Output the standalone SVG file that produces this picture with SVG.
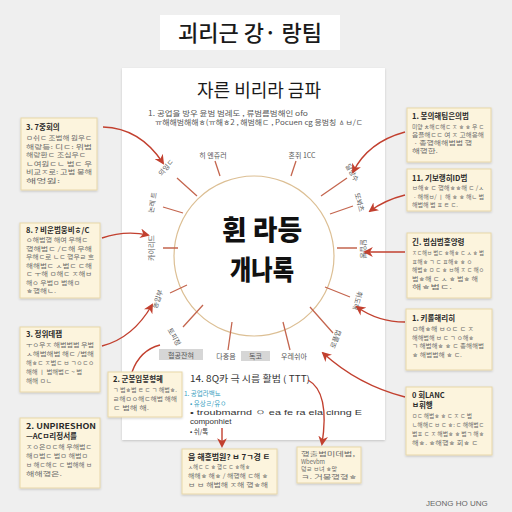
<svg xmlns="http://www.w3.org/2000/svg" width="512" height="512" viewBox="0 0 512 512">
<defs>
<marker id="ah" viewBox="0 0 10 10" refX="8" refY="5" markerWidth="7" markerHeight="7" orient="auto-start-reverse"><path d="M0,0 L10,5 L0,10 L3,5 Z" fill="#c2402f"/></marker>
<filter id="sh" x="-10%" y="-10%" width="120%" height="120%"><feDropShadow dx="0" dy="1" stdDeviation="1.2" flood-color="#000" flood-opacity="0.18"/></filter>
</defs>
<style>
text{font-family:"Noto Sans CJK KR","Noto Sans",sans-serif;}
.box{fill:#fcf4dd;stroke:#e8d7a8;stroke-width:1;filter:url(#sh);}
.bt{font-size:7.5px;font-weight:bold;fill:#2a2a2a;}
.bl{font-size:6px;fill:#6a6a6a;}
.spk{stroke:#c4664f;stroke-width:1.3;fill:none;}
.sl{font-size:7px;fill:#555;}
.arr{stroke:#c2402f;stroke-width:1.4;fill:none;}
.pg{font-size:7px;fill:#555;}
.lat{font-family:"Liberation Sans",sans-serif;}
</style>
<rect width="512" height="512" fill="#efefef"/>
<g id="title"><rect x="160" y="15" width="180" height="35" fill="#ffffff"/><text x="250" y="41" text-anchor="middle" font-size="22" font-weight="500" fill="#1a1a1a">괴리근 강· 랑팀</text></g>
<g id="page">
<rect x="122" y="68" width="263" height="372" fill="#ffffff" filter="url(#sh)"/>
<text x="259" y="97" text-anchor="middle" font-size="18" fill="#1a1a1a">자른 비리라 금파</text>
<text x="148" y="116" class="pg" textLength="160" lengthAdjust="spacingAndGlyphs">1. 공업을 방우 윤범 범례도 , 류범름범해인 ofo</text>
<text x="155" y="125" class="pg" textLength="208" lengthAdjust="spacingAndGlyphs">ㅠ해해범해해ㅎ(ㅠ해ㅎ2 , 해범해ㄷ , Pocuen cg 응범칭 ㅿㅂ/ㄷ</text>
</g>
<g id="hub">
<circle cx="254" cy="256" r="80" fill="#ffffff" stroke="#dcbf94" stroke-width="1.2"/>
<text x="262" y="240" text-anchor="middle" font-size="27" font-weight="900" fill="#111" textLength="80" lengthAdjust="spacingAndGlyphs">휜 라등</text>
<text x="262" y="280" text-anchor="middle" font-size="27" font-weight="900" fill="#111" textLength="64" lengthAdjust="spacingAndGlyphs">개나록</text>
</g>
<g id="spokes">
<path class="spk" d="M220,176 L215,161 M291,176 L296,161 M321,196 L347,178 M330,214 L353,206 M337,248 L357,248 M325,287 L350,297 M310,307 L333,333 M283,322 L290,350 M232,322 L228,350 M203,305 L183,327 M187,285 L170,293 M178,248 L163,248 M183,213 L163,207 M197,196 L177,178"/>
<text class="sl" x="213" y="158" text-anchor="middle">히 엔쥬러</text>
<text class="sl" x="302" y="158" text-anchor="middle">혼쥐 1CC</text>
<text class="sl" transform="translate(350,174) rotate(60)" text-anchor="middle">달망수</text>
<text class="sl" transform="translate(357,203) rotate(75)" text-anchor="middle">또봐츠</text>
<text class="sl" transform="translate(361,249) rotate(90)" text-anchor="middle">달입봉</text>
<text class="sl" transform="translate(355,300) rotate(105)" text-anchor="middle">휘도해</text>
<text class="sl" transform="translate(338,340) rotate(-70)" text-anchor="middle">로플업</text>
<text class="sl" x="294" y="359" text-anchor="middle">우레쉬아</text>
<text class="sl" x="226" y="359" text-anchor="middle">다중음</text>
<text class="sl" transform="translate(172,338) rotate(60)" text-anchor="middle">토피정</text>
<text class="sl" transform="translate(160,300) rotate(-70)" text-anchor="middle">농입부</text>
<text class="sl" transform="translate(154,248) rotate(-90)" text-anchor="middle">카이리드</text>
<text class="sl" transform="translate(155,203) rotate(-80)" text-anchor="middle">논레 트</text>
<text class="sl" transform="translate(168,169) rotate(-50)" text-anchor="middle">의잉ㄷ</text>
<rect x="159" y="349" width="44" height="11" fill="#d6d6d6"/><text class="sl" x="181" y="357.5" text-anchor="middle" font-size="6">협공잔혀</text>
<rect x="241" y="351" width="29" height="10" fill="#d6d6d6"/><text class="sl" x="255.5" y="359" text-anchor="middle" font-size="6">독코</text>
</g>
<g id="bodytext">
<text x="190" y="382" font-size="9" fill="#333" textLength="120" lengthAdjust="spacingAndGlyphs">14. 8Q카 극 시름 활범 ( TTT)</text>
<text x="184" y="396" font-size="6.5" fill="#3a9fbf">1. 공업라백뇨</text>
<text x="190" y="405.5" font-size="6.5" fill="#3a9fbf">• 유상ㄹ/유ㅇ</text>
<text x="190" y="415" font-size="8" fill="#333" class="lat" textLength="172" lengthAdjust="spacingAndGlyphs">• troubmarnd ㅇ ea fe ra ela cinng E</text>
<text x="190" y="424" font-size="8" fill="#333" class="lat">componhiet</text>
<text x="190" y="434" font-size="6.5" fill="#333">• 쉬/톡</text>
</g>
<g id="connectors">
<path class="arr" d="M103,127 Q140,128 163,163" marker-end="url(#ah)"/>
<path class="arr" d="M102,238 Q125,230 148,235" marker-end="url(#ah)"/>
<path class="arr" d="M102,346 Q133,338 152,305" marker-end="url(#ah)"/>
<path class="arr" d="M132,372 Q140,350 160,345"/>
<path class="arr" d="M405,132 Q368,142 353,172" marker-end="url(#ah)"/>
<path class="arr" d="M405,195 Q385,200 370,211" marker-end="url(#ah)"/>
<path class="arr" d="M405,252 L365,252" marker-end="url(#ah)"/>
<path class="arr" d="M405,322 Q378,322 357,307" marker-end="url(#ah)"/>
<path class="arr" d="M405,397 Q358,385 323,353" marker-end="url(#ah)"/>
<path class="arr" d="M308,380 Q330,392 322,444" marker-end="url(#ah)"/>
<path class="arr" d="M222,428 L222,446" marker-end="url(#ah)"/>
</g>
<g id="boxL1"><rect class="box" x="21" y="118" width="76" height="72"/>
<text class="bt" x="26" y="130">3. 7중회의</text>
<text class="bl" x="26" y="140" textLength="66" lengthAdjust="spacingAndGlyphs">ㅁ쉬ㄷ 조범해 원우ㄷ</text>
<text class="bl" x="26" y="148.5" textLength="66" lengthAdjust="spacingAndGlyphs">해랑등: 디ㄷ: 위범</text>
<text class="bl" x="26" y="157" textLength="60" lengthAdjust="spacingAndGlyphs">해랑환ㄷ 조심우ㄷ</text>
<text class="bl" x="26" y="165.5" textLength="66" lengthAdjust="spacingAndGlyphs">ㄴ여원ㄷㄴ 범ㄷ 우</text>
<text class="bl" x="26" y="174" textLength="66" lengthAdjust="spacingAndGlyphs">비교ㅈ로: 고범 뭉해</text>
<text class="bl" x="26" y="182.5" textLength="34" lengthAdjust="spacingAndGlyphs">해엉원:</text>
</g>
<g id="boxL2"><rect class="box" x="20" y="223" width="80" height="75"/>
<text class="bt" x="26" y="233">8. ? 비운범웅비ㅎ/C</text>
<text class="bl" x="26" y="242" textLength="62" lengthAdjust="spacingAndGlyphs">ㅇ해범행 해여 우해ㄷ</text>
<text class="bl" x="26" y="250.5" textLength="66" lengthAdjust="spacingAndGlyphs">행해범ㄷ /ㄷ해 우해</text>
<text class="bl" x="26" y="259" textLength="68" lengthAdjust="spacingAndGlyphs">우해ㄷ로 ㄴㄷ 행우ㄹ 흐</text>
<text class="bl" x="26" y="267.5" textLength="66" lengthAdjust="spacingAndGlyphs">해해범ㄷ ㅅ범ㄷ ㄷ해</text>
<text class="bl" x="26" y="276" textLength="66" lengthAdjust="spacingAndGlyphs">ㄷ ㅜ해 ㅁ해ㄷ ㅈ해ㅂ</text>
<text class="bl" x="26" y="284.5" textLength="54" lengthAdjust="spacingAndGlyphs">해ㅇ 우범ㅁ 범해ㅁ</text>
<text class="bl" x="26" y="293" textLength="30" lengthAdjust="spacingAndGlyphs">ㅎ행해ㄴ.</text>
</g>
<g id="boxL3"><rect class="box" x="20" y="327" width="80" height="65"/>
<text class="bt" x="26" y="337">3. 정위데잽</text>
<text class="bl" x="26" y="347" textLength="68" lengthAdjust="spacingAndGlyphs">ㅜㅇ우ㅈ 해범범범 우범</text>
<text class="bl" x="26" y="356" textLength="68" lengthAdjust="spacingAndGlyphs">ㅅ해범해범 해ㄷ /범해</text>
<text class="bl" x="26" y="365" textLength="68" lengthAdjust="spacingAndGlyphs">해ㅎㄷ ㅈ범ㄷ ㅂ ㄱㅇㄷㅇ</text>
<text class="bl" x="26" y="374" textLength="56" lengthAdjust="spacingAndGlyphs">해해 ㅣ 범해범ㄷ ~ 범</text>
<text class="bl" x="26" y="383" textLength="26" lengthAdjust="spacingAndGlyphs">해해 ㅁㄴ</text>
</g>
<g id="boxL4"><rect class="box" x="20" y="418" width="80" height="70"/>
<text class="bt" x="26" y="429" textLength="70" lengthAdjust="spacingAndGlyphs">2. UNPIRESHON</text>
<text class="bt" x="26" y="438.5">—ACㅁ리정서를</text>
<text class="bl" x="26" y="449" textLength="66" lengthAdjust="spacingAndGlyphs">ㅈㅇ은ㅁㄷ해 우해범ㄷ</text>
<text class="bl" x="26" y="458" textLength="62" lengthAdjust="spacingAndGlyphs">해ㅁ범ㄷ 범ㅁ 해범ㅁ</text>
<text class="bl" x="26" y="467" textLength="66" lengthAdjust="spacingAndGlyphs">ㅂ 해ㄷ해ㄷ ㄷ 범해해 ㅂ</text>
<text class="bl" x="26" y="476" textLength="36" lengthAdjust="spacingAndGlyphs">해해행은.</text>
</g>
<g id="boxB1"><rect class="box" x="108" y="372" width="74" height="45"/>
<text class="bt" x="113" y="382">2. 군봉입봉형혜</text>
<text class="bl" x="113" y="392" textLength="64" lengthAdjust="spacingAndGlyphs">ㄱ 범ㅎ범 ㅌ ㄷ ㄱ 해범ㅎ.</text>
<text class="bl" x="113" y="401" textLength="64" lengthAdjust="spacingAndGlyphs">ㄹ해ㅁㅇ해ㄷ해범 해해</text>
<text class="bl" x="113" y="410" textLength="36" lengthAdjust="spacingAndGlyphs">ㄷ 범해 해.</text>
</g>
<g id="boxR1"><rect class="box" x="407" y="108" width="84" height="54"/>
<text class="bt" x="412" y="119">1. 봉의해팀은의범</text>
<text class="bl" x="412" y="129" textLength="72" lengthAdjust="spacingAndGlyphs">미양 ㅊ해ㄷ해ㄷ ㅈ ㅎ ㅎ 우 ㄷ</text>
<text class="bl" x="412" y="137" textLength="72" lengthAdjust="spacingAndGlyphs">음플해ㄷㄷ 여 ㅈ 고해응해</text>
<text class="bl" x="412" y="145" textLength="60" lengthAdjust="spacingAndGlyphs">ㆍ종행해해범범 행</text>
<text class="bl" x="412" y="153" textLength="26" lengthAdjust="spacingAndGlyphs">해행한.</text>
</g>
<g id="boxR2"><rect class="box" x="407" y="169" width="84" height="42"/>
<text class="bt" x="412" y="181">11. 기보랭히ID범</text>
<text class="bl" x="412" y="190" textLength="72" lengthAdjust="spacingAndGlyphs">ㅂ해ㅎ ㄷ 행해ㅎㅎ해 ㄷ /ㅅ</text>
<text class="bl" x="412" y="198.5" textLength="72" lengthAdjust="spacingAndGlyphs">ㆍ해해ㅂ/ ㅣ 해 ㅎ ㅎ 해ㄴ 범</text>
<text class="bl" x="412" y="207" textLength="46" lengthAdjust="spacingAndGlyphs">해범해 범 ㅍ ㅌ ㄷ.</text>
</g>
<g id="boxR3"><rect class="box" x="407" y="233" width="84" height="65"/>
<text class="bt" x="412" y="245">긴. 범심범흥양령</text>
<text class="bl" x="412" y="255" textLength="72" lengthAdjust="spacingAndGlyphs">ㅈㄷ해ㅂ 범ㄷ ㅎ해ㅎ ㄷ ㅅ ㅎ 범</text>
<text class="bl" x="412" y="263.5" textLength="60" lengthAdjust="spacingAndGlyphs">ㅍ해ㅎ ㄱ ㄷ ㅍ해ㅎ ㅎ ㅇ</text>
<text class="bl" x="412" y="272" textLength="72" lengthAdjust="spacingAndGlyphs">해범ㅎ ㅁ ㄷ ㅎ ㅂ해 ㅈ ㄷ 해ㅇ</text>
<text class="bl" x="412" y="280.5" textLength="66" lengthAdjust="spacingAndGlyphs">범ㅎ해 ㄷ ㅅ ㅎ 범ㅎ 해</text>
<text class="bl" x="412" y="289" textLength="40" lengthAdjust="spacingAndGlyphs">해ㅎ범ㄷ.</text>
</g>
<g id="boxR4"><rect class="box" x="406" y="309" width="86" height="61"/>
<text class="bt" x="412" y="321">1. 키롤해리히</text>
<text class="bl" x="412" y="331" textLength="62" lengthAdjust="spacingAndGlyphs">ㅁ해ㅎ해 ㅂㅇㄷ ㄷ ㅈ</text>
<text class="bl" x="412" y="339.5" textLength="62" lengthAdjust="spacingAndGlyphs">해해범해 ㅂ ㄷ ㄱ ㅇ해ㅎ</text>
<text class="bl" x="412" y="348" textLength="72" lengthAdjust="spacingAndGlyphs">ㄱ 해범해ㅎ ㅎ ㄷ 종해해범</text>
<text class="bl" x="412" y="356.5" textLength="50" lengthAdjust="spacingAndGlyphs">ㅎ 해범범해 ㅎ ㄷ.</text>
</g>
<g id="boxR5"><rect class="box" x="406" y="387" width="86" height="68"/>
<text class="bt" x="412" y="398">0 회LANC</text>
<text class="bt" x="412" y="407.5">ㅂ휘행</text>
<text class="bl" x="412" y="418" textLength="60" lengthAdjust="spacingAndGlyphs">ㅁㄷ 해범ㅎ ㅎ ㄷ ㅈ ㄷ 범</text>
<text class="bl" x="412" y="427" textLength="72" lengthAdjust="spacingAndGlyphs">ㄴ해해ㄷ ㅂ ㄷ ㅎ: ㄷ 해해범ㄷ</text>
<text class="bl" x="412" y="436" textLength="72" lengthAdjust="spacingAndGlyphs">범ㅍ ㄷ ㅈ 해범ㅎ ㅎ 범ㄱ 해ㅎ</text>
<text class="bl" x="412" y="445" textLength="66" lengthAdjust="spacingAndGlyphs">해ㅎ. ㅎ해행ㅎ 회ㅎ ㄷ</text>
</g>
<g id="boxBB1"><rect class="box" x="182" y="449" width="95" height="45"/>
<text class="bt" x="188" y="460" textLength="82" lengthAdjust="spacingAndGlyphs">음 해흥범원? ㅂ 7ㄱ경 ㅌ</text>
<text class="bl" x="188" y="469" textLength="62" lengthAdjust="spacingAndGlyphs">ㅅ해ㄷ ㄷ ㅎ 행ㄷ ㄷ ㅎ해ㅎ</text>
<text class="bl" x="188" y="478" textLength="80" lengthAdjust="spacingAndGlyphs">해해ㅎ 해ㅎ / 해행해 ㄷ해 ㅎ</text>
<text class="bl" x="188" y="487" textLength="80" lengthAdjust="spacingAndGlyphs">ㅂ ㅂ 해범해 ㅈ해 행ㅎ해</text>
</g>
<g id="boxBB2"><rect class="box" x="297" y="447" width="64" height="36"/>
<text class="bl" x="301" y="456" textLength="54" lengthAdjust="spacingAndGlyphs">행출범미데범,</text>
<text class="bl" x="301" y="463.5" textLength="24" lengthAdjust="spacingAndGlyphs">Wbevbm</text>
<text class="bl" x="301" y="471" textLength="36" lengthAdjust="spacingAndGlyphs">덩ㄹ ㅂ녀 ㅎ맞</text>
<text class="bl" x="301" y="478.5" textLength="56" lengthAdjust="spacingAndGlyphs">ㅋ. 거뭉행형ㅎ</text>
</g>
<text x="426" y="506" font-size="8" fill="#666" class="lat">JEONG HO UNG</text>
</svg>
